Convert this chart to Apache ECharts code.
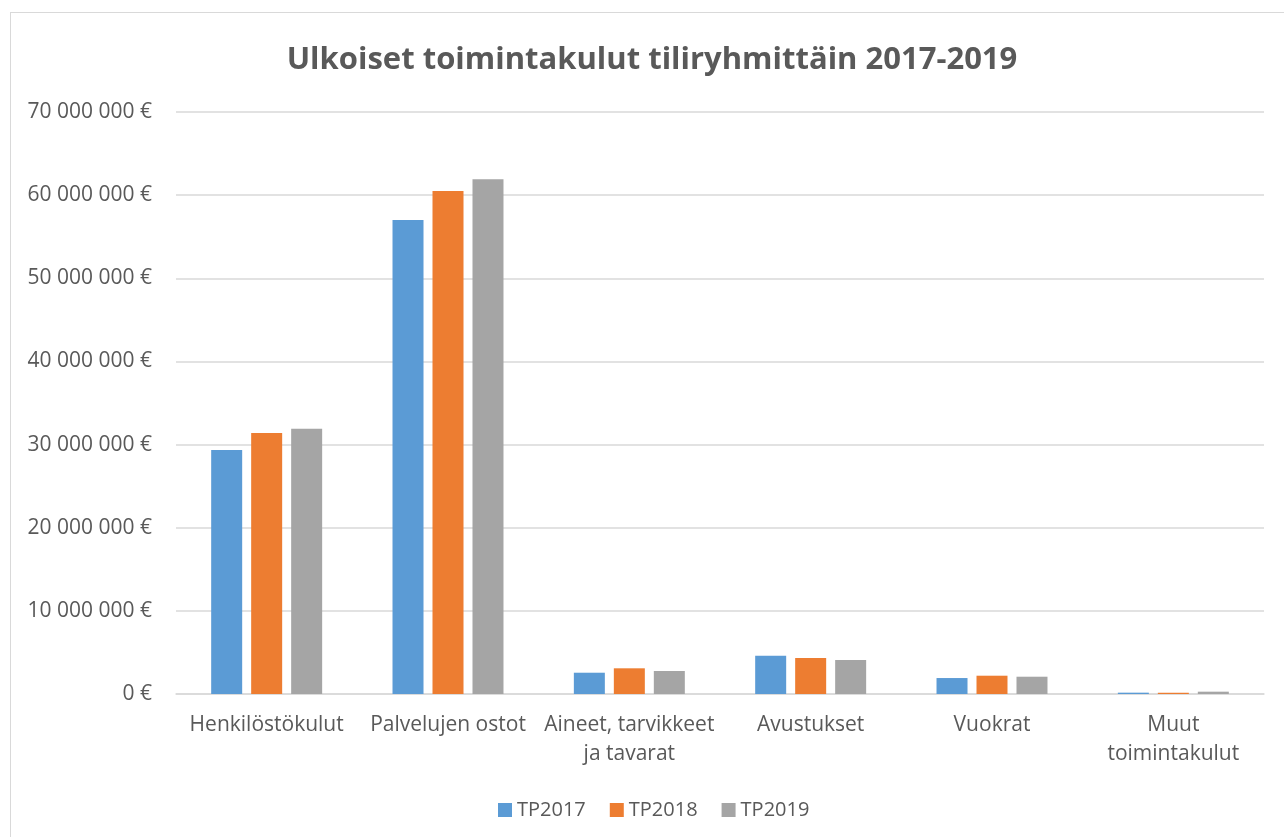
<!DOCTYPE html>
<html>
<head>
    <meta http-equiv="Content-Type" content="text/html; charset=utf-8" />
    <title>Ulkoiset toimintakulut</title>
    <script src="https://cdn.jsdelivr.net/npm/echarts@6/dist/echarts.min.js"></script>
    <style>
        body { margin: 0; background: #fff; }
        #main { position: absolute; left: 10px; top: 12px; width: 1290px; height: 840px; border: 1px solid #d9d9d9; box-sizing: border-box; }
    </style>
</head>
<body>
    <div id="main"></div>
<script type="text/javascript">
    var categories = ['Henkilöstökulut', 'Palvelujen ostot', 'Aineet, tarvikkeet\nja tavarat', 'Avustukset', 'Vuokrat', 'Muut\ntoimintakulut'];
    var tp2017 = [29350000, 57000000, 2560000, 4600000, 1920000, 160000];
    var tp2018 = [31400000, 60500000, 3090000, 4330000, 2200000, 150000];
    var tp2019 = [31900000, 61900000, 2770000, 4090000, 2080000, 280000];
    var yTicks = { min: 0, max: 70000000, interval: 10000000 };

    var font = '"Open Sans", "Liberation Sans", sans-serif';
    var myChart = echarts.init(document.getElementById('main'));

    function euro(v) {
        return String(v).replace(/\B(?=(\d{3})+(?!\d))/g, ' ') + ' €';
    }

    var option = {
        animation: false,
        textStyle: { fontFamily: font },
        title: {
            text: 'Ulkoiset toimintakulut tiliryhmittäin 2017-2019',
            left: 636,
            textAlign: 'center',
            top: 27,
            textStyle: { fontSize: 31, fontWeight: 'bold', color: '#595959', fontFamily: font }
        },
        legend: {
            data: ['TP2017', 'TP2018', 'TP2019'],
            left: 482,
            top: 782,
            itemWidth: 14,
            itemHeight: 14,
            itemGap: 24,
            icon: 'rect',
            textStyle: { fontSize: 20, color: '#595959' }
        },
        grid: { left: 165, right: 35, top: 99, bottom: 157, containLabel: false },
        xAxis: {
            type: 'category',
            data: categories,
            axisLine: { lineStyle: { color: '#d9d9d9', width: 1.5 } },
            axisTick: { show: false },
            axisLabel: { fontSize: 21, color: '#595959', margin: 17, lineHeight: 29, interval: 0 }
        },
        yAxis: {
            type: 'value',
            min: yTicks.min,
            max: yTicks.max,
            interval: yTicks.interval,
            axisLine: { show: false },
            axisTick: { show: false },
            splitLine: { lineStyle: { color: '#d9d9d9', width: 1.5 } },
            axisLabel: { fontSize: 21, color: '#595959', margin: 24, formatter: euro }
        },
        series: [
            { name: 'TP2017', type: 'bar', data: tp2017, barWidth: 31, barGap: '29%', itemStyle: { color: '#5b9bd5' } },
            { name: 'TP2018', type: 'bar', data: tp2018, barWidth: 31, barGap: '29%', itemStyle: { color: '#ed7d31' } },
            { name: 'TP2019', type: 'bar', data: tp2019, barWidth: 31, barGap: '29%', itemStyle: { color: '#a5a5a5' } }
        ]
    };

    myChart.setOption(option);
</script>
</body>
</html>
